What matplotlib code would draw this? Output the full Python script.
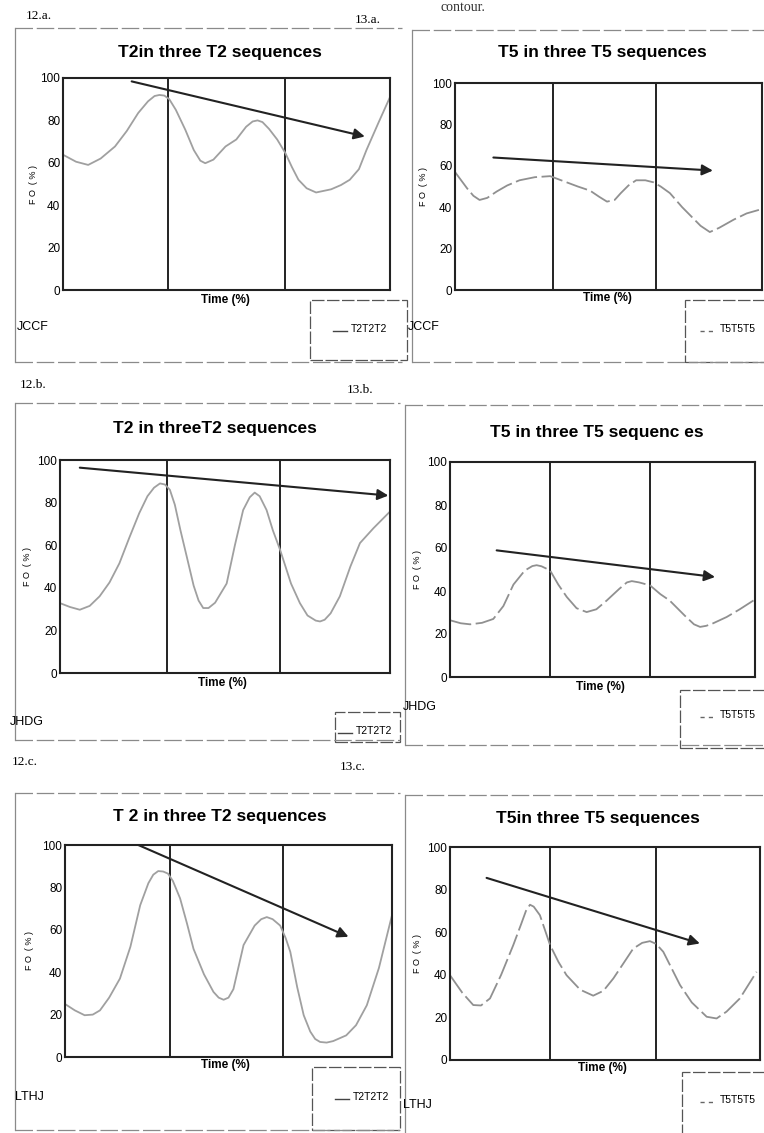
import matplotlib.pyplot as plt
from matplotlib.lines import Line2D
from matplotlib.patches import Rectangle

W, H = 764, 1133

# F0 (%) against normalised time (%)
t2_jccf_x = [0, 4, 7.7, 11.5, 15.9, 19.5, 23, 26, 28, 29.5, 31, 32.5, 34.5, 37.4, 40, 42, 43.5, 46, 49.7, 53,
             56, 58, 59.5, 61, 63, 65.5, 68, 70, 72, 74.5, 77.4, 82, 85, 87.7, 90.5, 92.8, 96.5, 100]
t2_jccf_y = [63.8, 60.5, 59, 62, 67.7, 75, 83.5, 89, 91.5, 92, 91.7, 90, 85, 75.6, 66, 61, 59.8, 61.5, 67.7, 71,
             77, 79.5, 80, 79.2, 76, 71, 64.6, 58, 52, 48, 46, 47.5, 49.5, 52, 57, 66, 79, 91]

t5_jccf_x = [0, 4, 6, 8, 10.5, 13.6, 17, 21, 26, 31, 36.4, 40, 44, 47, 49.5, 52, 54, 56.5, 59, 62, 64.7,
             67, 70, 74, 77, 80, 83, 86, 90.8, 95, 99]
t5_jccf_y = [57, 49, 45.5, 43.5, 44.5, 47.6, 50.5, 53, 54.5, 55, 52, 50, 48, 45, 42.7, 43.5, 46.8, 50.5, 53, 53, 52,
             50, 46.8, 40, 35.5, 31, 28, 30, 34, 37, 38.7]

t2_jhdg_x = [0, 3, 6, 9, 12, 15, 18, 21, 24, 26.5, 28.5, 30.3, 31.8, 33.3, 34.8, 36.5, 38.4, 40.5, 42, 43.4, 45,
             47, 50.5, 53, 55.5, 57.5, 59, 60.5, 62.6, 64.5, 66.7, 70, 72.7, 75, 77.5, 78.8, 80.2, 82, 84.8,
             88, 90.9, 95, 100]
t2_jhdg_y = [32.8, 31, 29.7, 31.5, 36, 42.5, 51.5, 63.5, 75, 83, 87, 89, 88.5, 86, 79, 67, 54.7, 41, 34, 30.5, 30.5,
             33, 42, 60, 76.5, 82.5, 84.7, 83, 76.5, 67, 57.8, 42, 32.8, 27, 24.6, 24.2, 25, 28, 36,
             50, 61, 68, 75.8]

t5_jhdg_x = [0, 3.5, 6.6, 10.5, 14.2, 17.5, 20.8, 24.5, 27, 28.4, 30, 32.8, 35.5, 38.3, 41.5, 44.8, 48, 51.4,
             55.5, 58, 59.6, 62, 65.6, 69, 72, 77, 80, 82, 84, 86, 90.7, 95, 99.5]
t5_jhdg_y = [26.4, 25, 24.5, 25.2, 27, 33, 43, 49.5, 51.6, 52, 51.5, 49.6, 43, 37.2, 32, 30.2, 31.5, 35.6,
             41, 44, 44.6, 44, 42.6, 38.5, 35.6, 28.5, 24.5, 23.3, 23.8, 24.8, 27.9, 31.5, 35.6]

t2_lthj_x = [0, 3, 6, 8.5, 10.7, 13.5, 16.8, 20, 23, 25.5, 27, 28.5, 30, 31.5, 33, 35.2, 37.3, 39.3, 42.5, 45.4,
             47, 48.5, 50, 51.5, 54.6, 58, 60, 61.7, 63.5, 65.8, 67.5, 68.9, 71, 73, 75, 76.5, 78, 80, 82, 86, 89,
             92.3, 96, 100]
t2_lthj_y = [25, 22, 19.7, 20, 22, 28, 37, 52, 71.6, 82, 86, 87.7, 87.5, 86.5, 83, 74.8, 63, 51, 39, 30.7,
             28, 27, 28, 32, 52.8, 62, 65, 66, 65, 62, 56, 49.6, 33, 19.7, 12, 8.5, 7.1, 6.8, 7.5, 10.2, 15,
             24.4, 42, 66.9]

t5_lthj_x = [0, 4, 7.5, 10, 12.9, 16.5, 20.4, 23, 24.5, 25.8, 27, 29, 32.3, 35, 37.6, 42, 46.2, 49.5, 52.7, 56,
             59.1, 62, 64.5, 66.5, 68.8, 71.5, 74.2, 78, 82.8, 86, 89.2, 93.5, 98.9]
t5_lthj_y = [39.8, 31.5, 25.8, 25.6, 28.9, 40, 53.9, 64, 70, 72.9, 72, 68, 53.9, 46, 39.8, 33, 30.2, 32.5, 38.3, 45.5,
             52.3, 55, 55.8, 54.5, 50.8, 43, 35.2, 27, 20.3, 19.5, 22.7, 28.9, 41.4]

# sequence boundaries (time %)
div_12a = [32, 68]
div_13a = [32, 65.5]
div_12b = [32.3, 66.7]
div_13b = [32.8, 65.6]
div_12c = [32, 66.8]
div_13c = [32.3, 66.5]

# declination arrows: (start, end) in (time %, F0 %)
arrow_12a = [(21, 98.4), (92.3, 72.4)]
arrow_13a = [(12.5, 64), (84, 57.7)]
arrow_12b = [(6, 96.4), (99.5, 83.3)]
arrow_13b = [(15.3, 58.9), (86.9, 46.5)]
arrow_12c = [(22.4, 100), (86.7, 56.7)]
arrow_13c = [(11.8, 85.5), (80.6, 54.7)]

y_ticks = [0, 20, 40, 60, 80, 100]

SANS = ['Liberation Sans Narrow', 'Liberation Sans', 'DejaVu Sans']
SERIF = ['Liberation Serif', 'DejaVu Serif']

panels = [
    dict(x=t2_jccf_x, y=t2_jccf_y, div=div_12a, arrow=arrow_12a, kind='T2',
         title='T2in three T2 sequences', speaker='JCCF', legend='T2T2T2',
         ax=(63, 78, 390, 290), title_xy=(220, 52), time_xy=(225, 300), ylab_x=33,
         spk_xy=(17, 327), box=(310, 300, 407, 360), leg_xy=(333, 329), frame=(15, 28, 402, 362)),
    dict(x=t5_jccf_x, y=t5_jccf_y, div=div_13a, arrow=arrow_13a, kind='T5',
         title='T5 in three T5 sequences', speaker='JCCF', legend='T5T5T5',
         ax=(455, 83, 762, 290), title_xy=(602, 53), time_xy=(607, 298), ylab_x=423,
         spk_xy=(408, 327), box=(685, 300, 770, 362), leg_xy=(700, 329), frame=(412, 30, 770, 362)),
    dict(x=t2_jhdg_x, y=t2_jhdg_y, div=div_12b, arrow=arrow_12b, kind='T2',
         title='T2 in threeT2 sequences', speaker='JHDG', legend='T2T2T2',
         ax=(60, 460, 390, 673), title_xy=(215, 428), time_xy=(222, 683), ylab_x=27,
         spk_xy=(10, 722), box=(335, 712, 400, 742), leg_xy=(338, 731), frame=(15, 403, 400, 740)),
    dict(x=t5_jhdg_x, y=t5_jhdg_y, div=div_13b, arrow=arrow_13b, kind='T5',
         title='T5 in three T5 sequenc es', speaker='JHDG', legend='T5T5T5',
         ax=(450, 462, 755, 677), title_xy=(597, 433), time_xy=(600, 687), ylab_x=418,
         spk_xy=(403, 707), box=(680, 690, 770, 748), leg_xy=(700, 715), frame=(405, 405, 770, 745)),
    dict(x=t2_lthj_x, y=t2_lthj_y, div=div_12c, arrow=arrow_12c, kind='T2',
         title='T 2 in three T2 sequences', speaker='LTHJ', legend='T2T2T2',
         ax=(65, 845, 392, 1057), title_xy=(220, 817), time_xy=(225, 1065), ylab_x=30,
         spk_xy=(15, 1097), box=(312, 1067, 400, 1130), leg_xy=(335, 1097), frame=(15, 793, 400, 1130)),
    dict(x=t5_lthj_x, y=t5_lthj_y, div=div_13c, arrow=arrow_13c, kind='T5',
         title='T5in three T5 sequences', speaker='LTHJ', legend='T5T5T5',
         ax=(450, 847, 760, 1060), title_xy=(598, 818), time_xy=(602, 1068), ylab_x=418,
         spk_xy=(403, 1105), box=(682, 1072, 770, 1140), leg_xy=(700, 1100), frame=(405, 795, 770, 1140)),
]

tags = [('12.a.', 26, 16), ('13.a.', 355, 20), ('12.b.', 20, 385), ('13.b.', 347, 390),
        ('12.c.', 12, 762), ('13.c.', 340, 767)]


def fx(x):
    return x / W


def fy(y):
    return 1 - y / H


def hline(fig, x0, x1, y, **kw):
    fig.add_artist(Line2D([fx(x0), fx(x1)], [fy(y), fy(y)], **kw))


def vline(fig, x, y0, y1, **kw):
    fig.add_artist(Line2D([fx(x), fx(x)], [fy(y0), fy(y1)], **kw))


fig = plt.figure(figsize=(W / 100, H / 100), dpi=100)
fig.patch.set_facecolor('white')

frame_kw = dict(color='#8a8a8a', lw=0.9)

for p in panels:
    # scanned frame round the chart
    l, t, r, b = p['frame']
    hline(fig, l, r, t, linestyle=(0, (14, 3)), **frame_kw)
    hline(fig, l, r, b, linestyle=(0, (14, 3)), **frame_kw)
    vline(fig, l, t, b, **frame_kw)

    l, t, r, b = p['ax']
    ax = fig.add_axes([fx(l), fy(b), fx(r) - fx(l), (b - t) / H])
    ax.set_xlim(0, 100)
    ax.set_ylim(0, 100)
    for s in ax.spines.values():
        s.set_linewidth(1.5)
        s.set_color('#222222')
    for d in p['div']:
        ax.axvline(d, color='#222222', lw=1.4)

    if p['kind'] == 'T2':
        ax.plot(p['x'], p['y'], color='#a0a0a0', lw=1.3, solid_joinstyle='round')
    else:
        ax.plot(p['x'], p['y'], color='#909090', lw=1.3, linestyle=(0, (12, 2.5)))

    (x0, y0), (x1, y1) = p['arrow']
    ax.annotate('', xy=(x1, y1), xytext=(x0, y0), annotation_clip=False,
                arrowprops=dict(arrowstyle='-|>', color='#222222', lw=1.5,
                                mutation_scale=16, shrinkA=0, shrinkB=0))

    ax.set_xticks([])
    ax.set_yticks(y_ticks)
    ax.set_yticklabels([str(v) for v in y_ticks], family=SANS, fontsize=8.5)
    ax.tick_params(axis='y', length=0, pad=2)

    fig.text(fx(p['title_xy'][0]), fy(p['title_xy'][1]), p['title'], family=SANS[1:],
             fontsize=12.5, fontweight='bold', ha='center', va='center')
    fig.text(fx(p['time_xy'][0]), fy(p['time_xy'][1]), 'Time (%)', family=SANS[1:],
             fontsize=8.5, fontweight='bold', ha='center', va='center')
    fig.text(fx(p['ylab_x']), fy((t + b) / 2), 'F O  ( % )', family=SANS[1:],
             fontsize=6.5, rotation=90, ha='center', va='center')
    fig.text(fx(p['spk_xy'][0]), fy(p['spk_xy'][1]), p['speaker'], family=SANS,
             fontsize=9, ha='left', va='center')

    # legend box
    l, t, r, b = p['box']
    fig.add_artist(Rectangle((fx(l), fy(b)), fx(r) - fx(l), (b - t) / H, fill=False,
                             edgecolor='#555555', lw=0.9, linestyle=(0, (10, 2))))
    lx, ly = p['leg_xy']
    if p['kind'] == 'T2':
        hline(fig, lx, lx + 14, ly + 2, color='#444444', lw=1.0)
        fig.text(fx(lx + 18), fy(ly), p['legend'], family=SANS, fontsize=7.5, ha='left', va='center')
    else:
        hline(fig, lx, lx + 16, ly + 2, color='#666666', lw=1.0, linestyle=(0, (3, 3)))
        fig.text(fx(lx + 20), fy(ly), p['legend'], family=SANS, fontsize=7.5, ha='left', va='center')

for txt, x, y in tags:
    fig.text(fx(x), fy(y), txt, family=SERIF, fontsize=9.5, ha='left', va='center')

fig.text(fx(440), fy(1), 'contour.', family=SERIF, fontsize=10, ha='left', va='top', color='#333333')

fig.savefig('out.png', dpi=100, facecolor='white')
